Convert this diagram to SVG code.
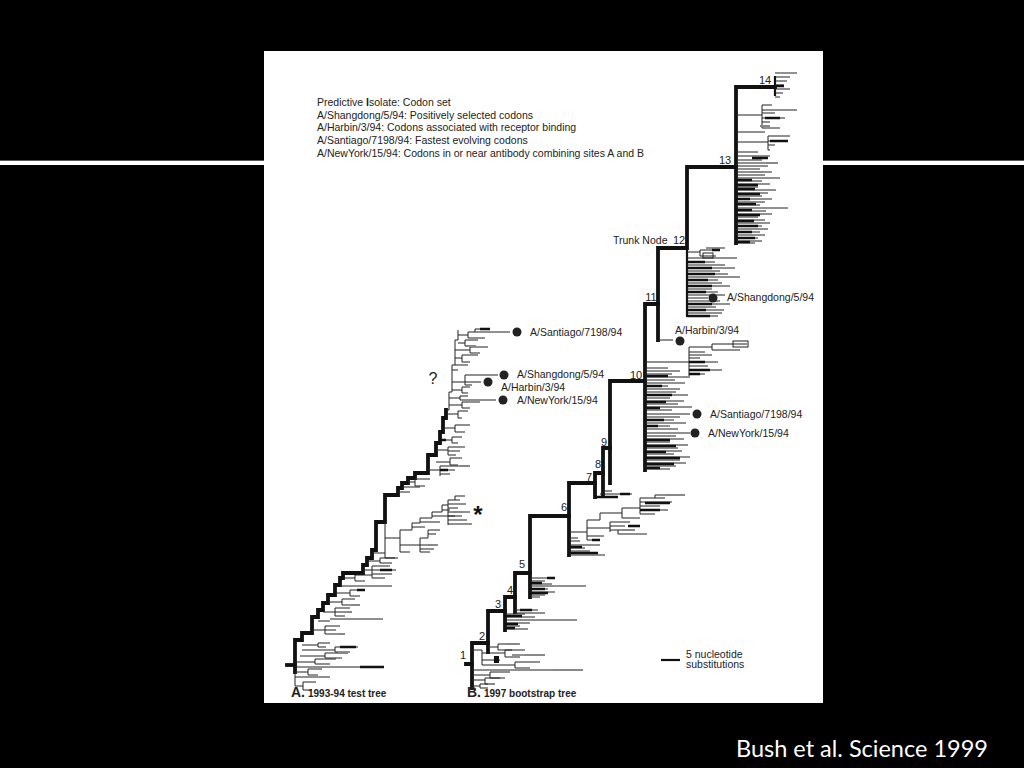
<svg xmlns="http://www.w3.org/2000/svg" width="1024" height="768" viewBox="0 0 1024 768">
<style>
.t{font-family:"Liberation Sans",Arial,sans-serif;font-size:10.5px;fill:#222}
.n{font-family:"Liberation Sans",Arial,sans-serif;font-size:11px;fill:#222;text-anchor:middle}
.tk{fill:none;stroke:#111;stroke-width:3.8;stroke-linecap:square;stroke-linejoin:miter}
.md{fill:none;stroke:#111;stroke-width:2.2}
.br{fill:none;stroke:#222;stroke-width:1}
.bk{fill:none;stroke:#111;stroke-width:2.6}
.gr{fill:none;stroke:#888;stroke-width:2}
.dot{fill:#222}
</style>
<rect x="0" y="0" width="1024" height="768" fill="#000"/>
<rect x="0" y="160" width="1024" height="1" fill="#555"/>
<rect x="0" y="161" width="1024" height="4" fill="#fff"/>
<rect x="264" y="51" width="559" height="652" fill="#fff"/>

<g id="legend">
<text class="t" x="317" y="106">Predictive <tspan font-weight="bold">I</tspan>solate: Codon set</text>
<text class="t" x="317" y="118.5">A/Shangdong/5/94: Positively selected codons</text>
<text class="t" x="317" y="131">A/Harbin/3/94: Codons associated with receptor binding</text>
<text class="t" x="317" y="144">A/Santiago/7198/94: Fastest evolving codons</text>
<text class="t" x="317" y="157">A/NewYork/15/94: Codons in or near antibody combining sites A and B</text>
</g>

<g id="treeA">
<path class="tk" d="M295 672 V640 H302 V633 H312 V617 H318 V610 H323 V603 H328 V595 H335 V585 H340 V578 H343 V573 H363 V565 H367 V558 H372 V550 H376 V522 H385 V495 H398 V488 H402 V483 H408 V478 H415 V473 H428 V455 H436 V443 H440 V432 H443 V418 H446 V410"/>
<path class="tk" d="M287 665 H295"/>
<path class="br" d="M446 410 H449 V392 H452 V365 H455 V340 H458 V330 M295 672 V686"/>
<path class="br" d="M295 686 H303 M303 682 V690 M303 682 H316 M303 690 H312
M295 677 H330 M295 672 H308 M308 669 V675 M308 669 H322 M308 675 H318
M295 667 H384 M295 662 H315 M315 659 V664 M315 659 H336 M315 664 H330
M300 656 H325 M325 653 V658 M325 653 H348 M325 658 H342
M302 650 H335 M335 647 V652 M335 647 H358 M335 652 H350
M302 645 H318 M318 643 V647 M318 643 H330 M318 647 H326
M312 630 H325 M325 626 V634 M325 626 H340 M325 630 H336 M325 634 H345
M318 621 H330 M330 619 H383
M323 612 H335 M335 608 V616 M335 608 H350 M335 612 H348 M335 616 H345
M328 602 H342 M342 599 V605 M342 599 H355 M342 605 H352
M335 593 H350 M350 590 V596 M350 590 H365 M350 596 H360
M340 586 H392
M343 578 H355 M355 575 V581 M355 575 H372 M355 581 H365
M363 570 H372 M372 566 V578 M372 566 H390 M372 570 H396 M372 574 H392 M372 578 H385
M367 561 H380 M380 558 V563 M380 558 H398 M380 563 H392 M372 553 H385"/>
<path class="bk" d="M360 667 H384 M340 647 H356 M357 590 H365 M380 570 H392"/>
<path class="gr" d="M338 653 H348 M352 612 H348 M360 605 H352 M345 634 H338"/>
<path class="br" d="M385 522 V558 H395 M385 538 H400 M400 530 V552 M400 552 H410
M400 545 H420 M420 538 V552 M420 545 H438 M420 549 H434 M420 552 H430 M420 538 H428 M428 530 V538 M428 530 H440 M428 534 H436
M400 530 H412 V523 H420 V518 H432 V512 H442 V505 H448
M412 527 H425 M420 522 H440 M432 516 H455 M442 510 H450
M448 500 V525 M448 500 H460 M448 504 H466 M448 508 H458 M448 512 H470 M448 516 H462 M448 520 H467 M448 524 H472 M455 496 V500 M455 496 H465"/>
<path class="gr" d="M452 512 H462 M428 545 H436"/>
<text x="478" y="523" font-family="Liberation Sans,Arial,sans-serif" font-size="24" font-weight="bold" fill="#111" text-anchor="middle">*</text>
<path class="br" d="M398 492 H410 M402 487 H420 M408 482 H415 M415 479 V486 M415 479 H430 M415 486 H425
M428 470 H440 M440 466 V476 M440 466 H470 M440 470 H455 M440 474 H450
M436 462 H450 M450 458 V465 M450 458 H462 M450 465 H458
M436 450 H448 M448 447 V455 M448 447 H465 M448 451 H460 M448 455 H456
M440 440 H452 M452 437 V443 M452 437 H462 M452 443 H458
M443 428 H455 M455 425 V432 M455 425 H470 M455 432 H465
M446 414 H458 M458 411 V418 M458 411 H468 M458 418 H462
M449 405 H462 M462 402 V408 M462 402 H480 M462 408 H470
M449 398 H460 M460 396 V400 M460 400 H496 M460 396 H468
M452 390 H462 M462 387 V393 M462 387 H470 M462 393 H468
M452 382 H465 M465 375 V385 M465 375 H498 M465 382 H481 M465 385 H472 M452 370 H458
M455 365 H468 M455 358 H462 M462 355 V362 M462 355 H478 M462 362 H470
M455 350 H470 M470 347 V353 M470 347 H488 M470 353 H480
M458 343 H465 M465 340 V346 M465 340 H478 M465 346 H475
M458 335 H468 M468 332 V338 M468 332 H510 M468 338 H485 M475 329 V332 M475 329 H490"/>
<path class="bk" d="M480 329 H490 M440 470 H448 M440 440 H446"/>
<path class="gr" d="M466 346 H476 M460 466 H470"/>
<circle class="dot" cx="517" cy="332" r="4.5"/>
<circle class="dot" cx="504" cy="375" r="4.5"/>
<circle class="dot" cx="488" cy="382" r="4.5"/>
<circle class="dot" cx="503" cy="400" r="4.5"/>
<text class="t" x="530" y="336">A/Santiago/7198/94</text>
<text class="t" x="517" y="378">A/Shangdong/5/94</text>
<text class="t" x="501" y="391">A/Harbin/3/94</text>
<text class="t" x="517" y="404">A/NewYork/15/94</text>
<text x="433" y="384" font-family="Liberation Sans,Arial,sans-serif" font-size="16" fill="#222" text-anchor="middle">?</text>
<text x="291" y="697" font-family="Liberation Sans,Arial,sans-serif" font-weight="bold" fill="#222"><tspan font-size="14">A.</tspan><tspan font-size="10" dx="3">1993-94 test tree</tspan></text>
</g>

<g id="treeB">
<path class="tk" d="M472 688 V643 H488 V611 H505 V597 H515 V573 H530 V516 H569 V483 H595 V473 H603 V448 H610 V381 H645 V304 H658 V248 H687 V167 H736 V87 H775"/>
<path class="tk" d="M488 643 V652 M505 611 V630 M515 597 V612 M530 573 V597 M569 516 V555 M595 483 V497 M603 473 V495 M610 448 V483 M645 381 V470 M658 304 V340 M736 167 V243 M466 664 H472"/>
<path class="md" d="M687 248 V317 M775 76 V96"/>
<path class="br" d="M472 650 H482 M482 650 V665 M482 653 H505 M505 650 V657 M505 650 H525 M505 657 H520 M512 655 H545
M482 660 H500 M482 665 H515 M515 662 V668 M515 662 H540 M515 668 H530
M472 670 H583 M472 675 H490 M490 672 V678 M490 672 H510 M490 678 H505
M472 680 H485 M485 678 V684 M485 678 H500 M485 684 H495 M472 686 H480 M480 684 V688 M480 684 H490 M480 688 H488
M488 647 H498 M498 644 V650 M498 644 H520 M498 650 H512"/>
<path class="gr" d="M553 670 H583 M525 655 H545 M505 644 H518 M495 684 H488"/>
<rect x="494" y="656" width="5" height="7" fill="#111"/>
<path class="br" d="M505 614 H525 M505 617 H535 M505 620 H577 M505 623 H530 M505 626 H520 M505 629 H528 M515 610 H538 M515 613 H545"/>
<path class="bk" d="M505 616 H522 M505 624 H518 M505 628 H515 M520 610 H532"/>
<path class="br" d="M530 578 H555 M530 581 H545 M530 584 H552 M530 586 H586 M530 589 H548 M530 592 H555 M530 595 H545 M530 597 H540"/>
<path class="bk" d="M547 578 H555 M530 583 H542 M530 589 H545 M530 593 H548"/>
<path class="br" d="M569 555 H605 M569 551 H590 M569 548 H585 M569 545 H600 M569 541 H580 M569 538 H578
M569 532 H587 M587 520 V540 M587 540 H600 M587 536 H604
M587 528 H610 M610 522 V532 M610 522 H630 M610 526 H625 M610 530 H635 M618 530 V534 M618 534 H647
M587 520 H600 M600 513 V520 M600 513 H622 M622 508 V518 M622 518 H640 M622 508 H640
M640 498 V514 M640 498 H665 M640 502 H672 M640 506 H660 M640 510 H668 M640 514 H655 M655 495 V498 M655 495 H685"/>
<path class="bk" d="M569 553 H598 M569 547 H582 M645 503 H670 M640 510 H660 M628 526 H640 M592 540 H600"/>
<path class="gr" d="M665 495 H685 M622 530 H635"/>
<path class="br" d="M600 494 H632 M603 491 H612"/>
<path class="bk" d="M595 497 H618 M620 494 H630"/>
<path class="br" d="M645 362 H689 M689 347 V376 M689 347 H712 M712 344 V350 M712 344 H747 M712 350 H740
M689 352 H705 M689 355 H712 M689 358 H700 M689 362 H718 M689 366 H708 M689 370 H722 M689 374 H705
M645 368 H668 M645 371 H680 M645 374 H672 M645 377 H690 M645 380 H675 M645 383 H685 M645 386 H668 M645 389 H680 M645 392 H676 M645 395 H688 M645 398 H670 M645 401 H684 M645 404 H678 M645 407 H692 M645 410 H672 M645 414 H690 M645 417 H680 M645 420 H674 M645 423 H686 M645 426 H670 M645 429 H678 M645 433 H690 M645 436 H676 M645 439 H684 M645 442 H670 M645 445 H688 M645 448 H678 M645 451 H682 M645 454 H674 M645 457 H690 M645 460 H680 M645 463 H686 M645 466 H676 M645 469 H670"/>
<path class="bk" d="M645 376 H668 M645 386 H662 M645 395 H672 M645 402 H666 M645 408 H660 M645 420 H664 M645 426 H658 M645 440 H670 M645 446 H676 M645 452 H666 M645 458 H680 M645 464 H674 M645 468 H660 M689 362 H705 M689 370 H710 M689 374 H700"/>
<rect x="733" y="341" width="15" height="6" fill="none" stroke="#222" stroke-width="1"/>
<path class="br" d="M658 340 H673"/>
<path class="br" d="M687 252 H700 M700 250 V256 M700 250 H712 M706 248 H725 M700 256 H716
M687 258 H737 M687 262 H715 M687 265 H725 M687 268 H735 M687 271 H720 M687 274 H728 M687 277 H740 M687 280 H718 M687 283 H722 M687 286 H730 M687 289 H712 M687 292 H718 M687 295 H725 M687 298 H708 M687 301 H720 M687 304 H730 M687 307 H716 M687 310 H724 M687 313 H722 M687 316 H718"/>
<path class="bk" d="M687 262 H705 M687 268 H712 M687 274 H715 M687 280 H708 M687 286 H712 M687 292 H706 M687 304 H712 M687 310 H706 M687 316 H710 M712 250 H720"/>
<rect x="703" y="253" width="10" height="5" fill="none" stroke="#222" stroke-width="1"/>
<path class="br" d="M736 115 H762 M762 105 V128 M762 105 H772 M762 110 H797 M762 113 H775 M762 118 H785 M762 122 H770 M762 128 H780
M736 132 H765 M736 142 H768 M768 136 V150 M768 136 H790 M768 141 H788 M768 145 H775 M768 150 H770
M736 152 H758 M736 156 H770 M736 160 H762 M736 163 H775 M736 166 H768 M736 169 H760 M736 172 H772 M736 175 H765 M736 178 H780 M736 181 H762 M736 184 H770 M736 187 H758 M736 190 H776 M736 193 H768 M736 196 H762 M736 199 H772 M736 202 H765 M736 205 H760 M736 208 H788 M736 211 H766 M736 214 H772 M736 217 H758 M736 220 H765 M736 223 H770 M736 226 H762 M736 229 H768 M736 232 H760 M736 235 H765 M736 238 H758 M736 241 H762 M736 243 H755
M775 73 H797 M775 77 H790 M775 81 H787 M775 85 H784 M775 89 H790 M775 93 H783 M775 97 H780"/>
<path class="bk" d="M765 118 H780 M770 141 H788 M752 158 H768 M736 180 H752 M736 185 H758 M736 189 H755 M736 194 H760 M736 199 H750 M736 204 H756 M736 210 H752 M736 215 H760 M736 221 H754 M736 226 H758 M736 232 H752 M736 238 H755 M736 242 H750 M776 86 H784"/>
<path class="gr" d="M766 163 H778 M750 172 H764 M760 126 H770"/>
<circle class="dot" cx="680" cy="341" r="4.5"/>
<circle class="dot" cx="713" cy="298" r="4.5"/>
<circle class="dot" cx="697" cy="414" r="4.5"/>
<circle class="dot" cx="695" cy="433" r="4.5"/>
<text class="t" x="727" y="301">A/Shangdong/5/94</text>
<text class="t" x="675" y="334">A/Harbin/3/94</text>
<text class="t" x="710" y="418">A/Santiago/7198/94</text>
<text class="t" x="708" y="437">A/NewYork/15/94</text>
<text class="t" x="613" y="244">Trunk Node</text>
<text class="n" x="463" y="659">1</text>
<text class="n" x="482" y="640">2</text>
<text class="n" x="498" y="608">3</text>
<text class="n" x="510" y="594">4</text>
<text class="n" x="522" y="568">5</text>
<text class="n" x="564" y="511">6</text>
<text class="n" x="589" y="481">7</text>
<text class="n" x="598" y="468">8</text>
<text class="n" x="604" y="446">9</text>
<text class="n" x="636" y="379">10</text>
<text class="n" x="651" y="301">11</text>
<text class="n" x="679" y="244">12</text>
<text class="n" x="725" y="164">13</text>
<text class="n" x="765" y="84">14</text>
<text x="467" y="697" font-family="Liberation Sans,Arial,sans-serif" font-weight="bold" fill="#222"><tspan font-size="14">B.</tspan><tspan font-size="10" dx="3">1997 bootstrap tree</tspan></text>
</g>

<g id="scale">
<path class="md" d="M661 660 H680" stroke-width="1.5"/>
<text class="t" x="686" y="658">5 nucleotide</text>
<text class="t" x="686" y="668">substitutions</text>
</g>

<text x="736" y="757" font-family="Lato,'Open Sans',sans-serif" font-size="23.5" fill="#fff">Bush et al. Science 1999</text>
</svg>
